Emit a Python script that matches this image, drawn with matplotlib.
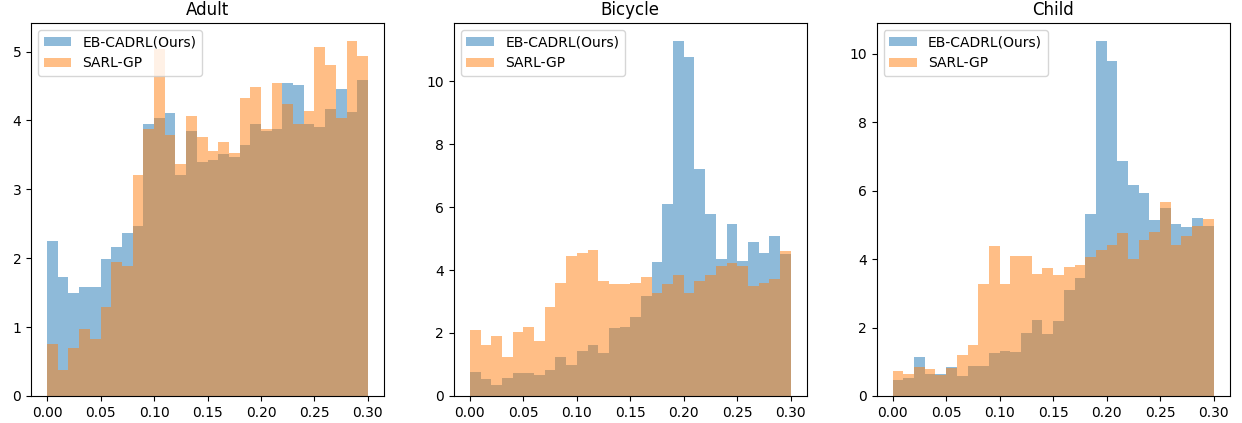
import numpy as np
import matplotlib
matplotlib.use("Agg")
import matplotlib.pyplot as plt

titles = ["Adult", "Bicycle", "Child"]
labels = ["EB-CADRL(Ours)", "SARL-GP"]
edges = np.linspace(0, 0.3, 31)  # 30 bins of width 0.01

adult_ours = [2.25, 1.73, 1.50, 1.58, 1.58, 1.99, 2.17, 2.37, 2.47, 3.95,
              4.04, 4.11, 3.21, 3.85, 3.39, 3.42, 3.52, 3.47, 3.65, 3.95,
              3.85, 3.87, 4.55, 4.52, 3.95, 3.91, 4.16, 4.46, 4.13, 4.59]
adult_sarl = [0.76, 0.38, 0.70, 0.97, 0.83, 1.29, 1.95, 1.88, 3.21, 3.88,
              5.04, 3.79, 3.37, 4.07, 3.76, 3.56, 3.69, 3.53, 4.33, 4.49,
              3.88, 4.55, 4.24, 3.95, 4.14, 5.07, 4.81, 4.04, 5.16, 4.94]

bicycle_ours = [0.76, 0.54, 0.35, 0.57, 0.73, 0.73, 0.67, 0.83, 1.24, 0.99,
                1.43, 1.62, 1.37, 2.16, 2.20, 2.51, 3.18, 4.26, 6.11, 11.29,
                10.78, 7.22, 5.79, 4.36, 5.47, 4.29, 4.90, 4.55, 5.09, 4.52]
bicycle_sarl = [2.10, 1.62, 1.91, 1.24, 2.04, 2.20, 1.75, 2.83, 3.59, 4.45,
                4.55, 4.64, 3.66, 3.56, 3.56, 3.59, 3.79, 3.28, 3.56, 3.85,
                3.28, 3.66, 3.85, 4.14, 4.23, 4.14, 3.50, 3.59, 3.72, 4.61]

child_ours = [0.47, 0.53, 1.14, 0.64, 0.64, 0.85, 0.59, 0.88, 0.88, 1.26,
              1.32, 1.29, 1.84, 2.22, 1.81, 2.20, 3.10, 3.45, 5.33, 10.39,
              9.80, 6.88, 6.18, 5.94, 5.15, 5.50, 5.03, 4.95, 5.21, 4.98]
child_sarl = [0.73, 0.64, 0.85, 0.79, 0.61, 0.82, 1.20, 1.49, 3.28, 4.39,
              3.28, 4.10, 4.10, 3.57, 3.75, 3.54, 3.78, 3.83, 4.07, 4.27,
              4.42, 4.77, 4.01, 4.57, 4.80, 5.68, 4.42, 4.68, 4.98, 5.18]

series = [(adult_ours, adult_sarl), (bicycle_ours, bicycle_sarl), (child_ours, child_sarl)]
centers = (edges[:-1] + edges[1:]) / 2

fig, axes = plt.subplots(1, 3, figsize=(12.42, 4.23), dpi=100)
fig.subplots_adjust(left=0.025, right=0.990, top=0.946, bottom=0.064, wspace=0.198)

for ax, title, (ours, sarl) in zip(axes, titles, series):
    ax.hist(centers, bins=edges, weights=ours, alpha=0.5, label=labels[0])
    ax.hist(centers, bins=edges, weights=sarl, alpha=0.5, label=labels[1])
    ax.set_title(title)
    ax.legend(loc="upper left")

fig.savefig("out.png")
